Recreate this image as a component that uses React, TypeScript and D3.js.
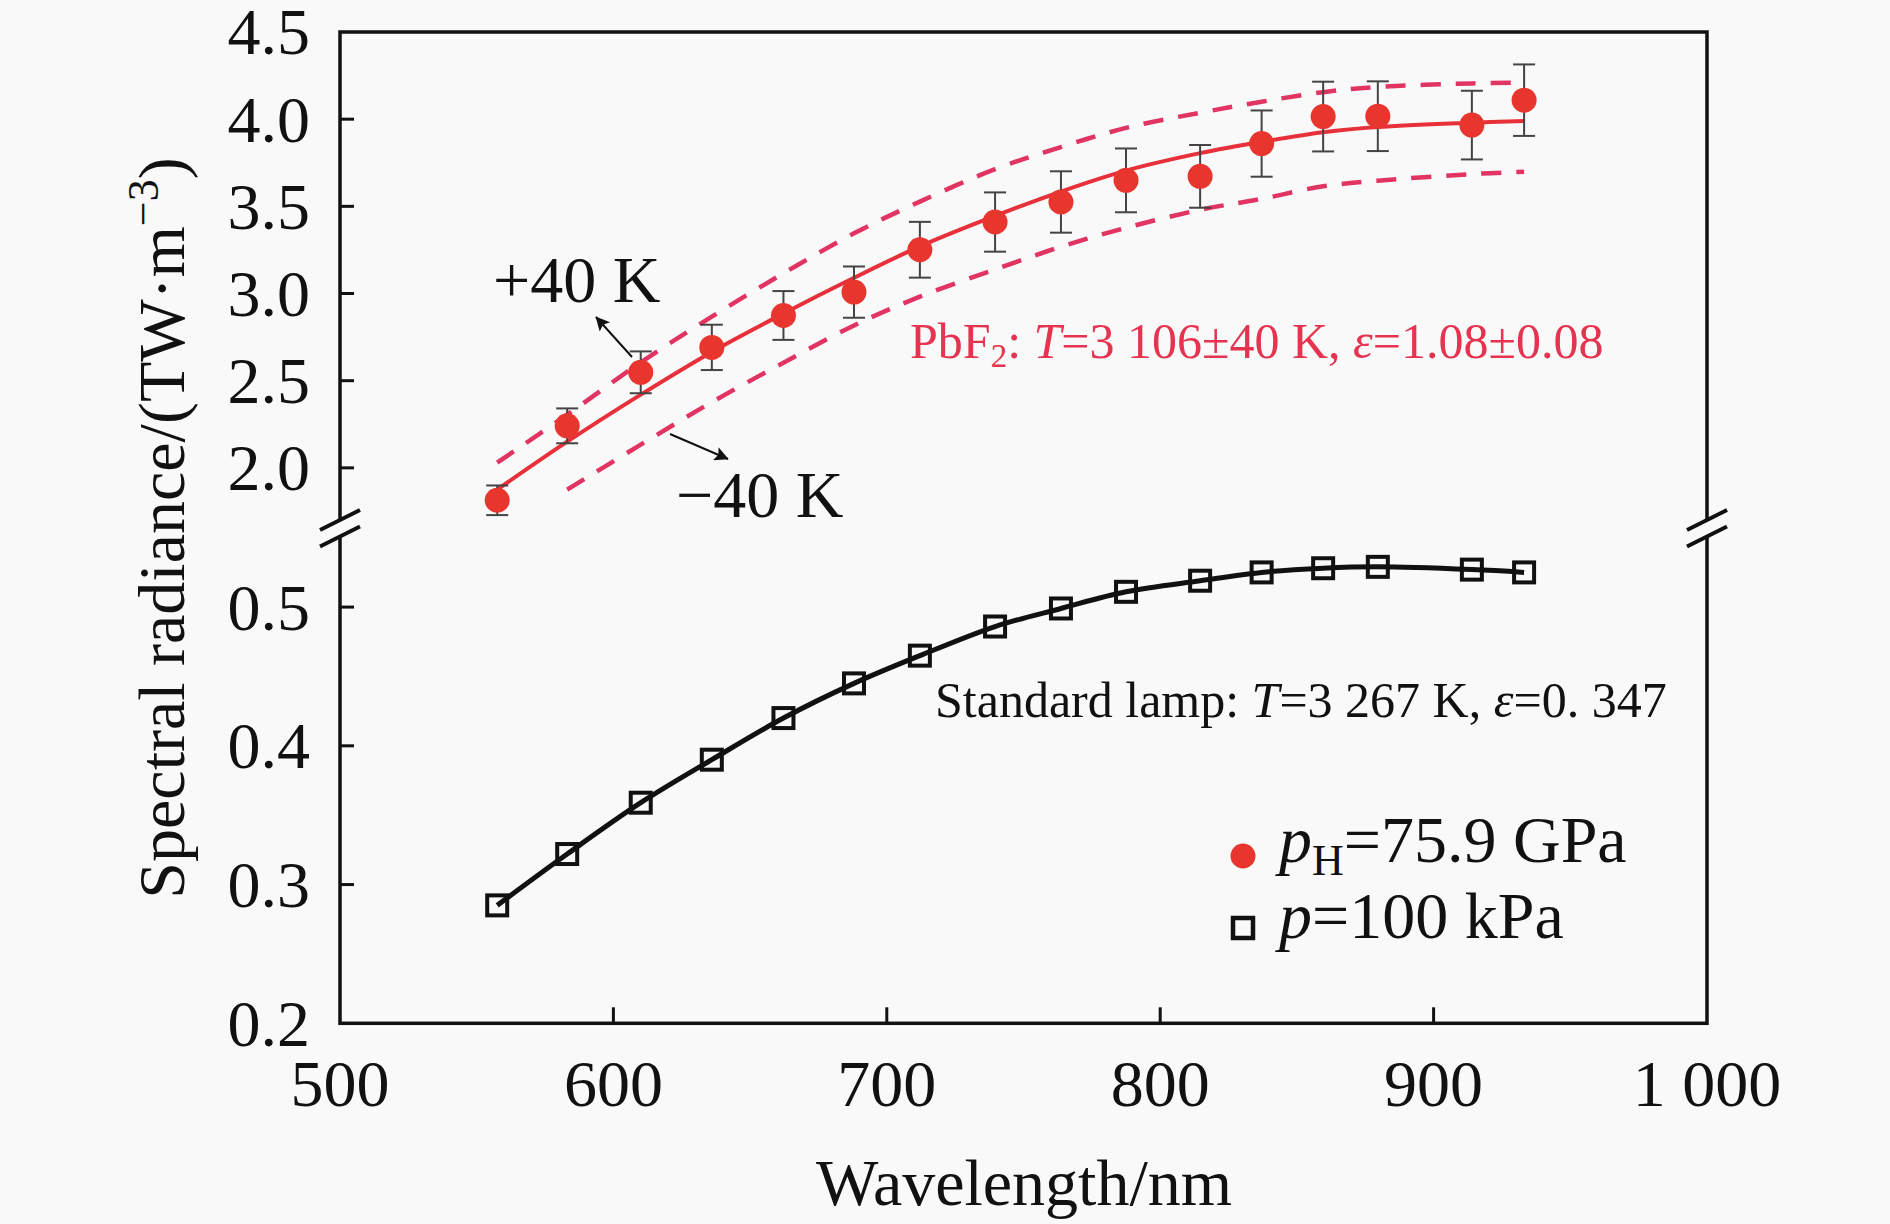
import React from "react";
import * as d3 from "d3";

// ---------- data ----------
const wavelengths = [557.5, 583.1, 610.0, 636.0, 662.2, 688.0, 712.1, 739.6, 763.7, 787.5, 814.6, 837.1, 859.6, 879.6, 914.0, 933.1];
const pbf2Radiance = [1.814, 2.241, 2.548, 2.691, 2.874, 3.008, 3.251, 3.410, 3.525, 3.649, 3.672, 3.860, 4.015, 4.017, 3.966, 4.109];
const pbf2Error = [0.085, 0.10, 0.12, 0.13, 0.14, 0.147, 0.16, 0.17, 0.176, 0.183, 0.18, 0.19, 0.20, 0.20, 0.197, 0.205];
const pbf2Fit = [1.875, 2.15, 2.42, 2.665, 2.885, 3.09, 3.27, 3.445, 3.585, 3.705, 3.805, 3.87, 3.925, 3.955, 3.98, 3.99];
const fitPlus40 = [2.03, 2.305, 2.605, 2.867, 3.116, 3.345, 3.527, 3.713, 3.84, 3.95, 4.037, 4.10, 4.155, 4.185, 4.205, 4.21];
const fitMinus40: (number | null)[] = [null, 1.875, 2.133, 2.377, 2.603, 2.817, 2.982, 3.138, 3.268, 3.377, 3.48, 3.543, 3.615, 3.647, 3.685, 3.698];
const lampRadiance = [0.285, 0.322, 0.359, 0.390, 0.420, 0.445, 0.465, 0.486, 0.499, 0.511, 0.519, 0.525, 0.528, 0.529, 0.527, 0.525];

const xTicks = [500, 600, 700, 800, 900, 1000];
const xTickLabels = ["500", "600", "700", "800", "900", "1 000"];
const yUpperTicks = [2.0, 2.5, 3.0, 3.5, 4.0, 4.5];
const yUpperLabels = ["2.0", "2.5", "3.0", "3.5", "4.0", "4.5"];
const yLowerTicks = [0.2, 0.3, 0.4, 0.5];
const yLowerLabels = ["0.2", "0.3", "0.4", "0.5"];

// ---------- layout ----------
const W = 1890;
const H = 1224;
const L = 340;
const R = 1707;
const T = 32;
const B = 1023.3;
const BRK = 528;

const FONT = "'Liberation Serif', 'Times New Roman', Times, serif";
const BG = "#f9f9f9";
const RED_PT = "#e8362f";
const RED_LINE = "#e8303a";
const RED_DASH = "#e13462";
const RED_TEXT = "#e6334f";

export default function App() {
  const x = d3.scaleLinear().domain([500, 1000]).range([L, R]);
  const yU = d3.scaleLinear().domain([1.655, 4.5]).range([BRK, T]);
  const yL = d3.scaleLinear().domain([0.2, 0.557]).range([B, BRK]);

  const lineU = d3
    .line<[number, number]>()
    .x((d) => x(d[0]))
    .y((d) => yU(d[1]))
    .curve(d3.curveCatmullRom.alpha(0.5));
  const lineL = d3
    .line<[number, number]>()
    .x((d) => x(d[0]))
    .y((d) => yL(d[1]))
    .curve(d3.curveCatmullRom.alpha(0.5));

  const fitPts = wavelengths.map((w, i) => [w, pbf2Fit[i]] as [number, number]);
  const plusPts = wavelengths.map((w, i) => [w, fitPlus40[i]] as [number, number]);
  const minusPts = wavelengths
    .map((w, i) => [w, fitMinus40[i]] as [number, number | null])
    .filter((d) => d[1] !== null) as [number, number][];
  const lampPts = wavelengths.map((w, i) => [w, lampRadiance[i]] as [number, number]);

  const tickLen = 14;
  const sq = 20;

  const breakShape = (ax: number) => {
    const dx = 20;
    const slope = 10;
    const y1 = BRK - 8;
    const y2 = BRK + 8.5;
    return (
      <g>
        <polygon
          points={`${ax - dx},${y1 + slope} ${ax + dx},${y1 - slope} ${ax + dx},${y2 - slope} ${ax - dx},${y2 + slope}`}
          fill={BG}
        />
        <line x1={ax - dx} y1={y1 + slope} x2={ax + dx} y2={y1 - slope} stroke="#111" strokeWidth={4} />
        <line x1={ax - dx} y1={y2 + slope} x2={ax + dx} y2={y2 - slope} stroke="#111" strokeWidth={4} />
      </g>
    );
  };

  return (
    <svg
      width={W}
      height={H}
      viewBox={`0 0 ${W} ${H}`}
      style={{ position: "absolute", left: 0, top: 0, background: BG }}
      fontFamily={FONT}
    >
      <defs>
        <marker id="arrowBig" viewBox="0 0 10 10" refX="9.5" refY="5" markerWidth="18" markerHeight="14" orient="auto" markerUnits="userSpaceOnUse">
          <path d="M0,0 L10,5 L0,10 L2,5 z" fill="#111" />
        </marker>
      </defs>
      <rect x={0} y={0} width={W} height={H} fill={BG} />

      {/* frame */}
      <rect x={L} y={T} width={R - L} height={B - T} fill="none" stroke="#111" strokeWidth={3.5} />

      {/* left ticks */}
      {yUpperTicks.slice(0, -1).map((t) => (
        <line key={"tu" + t} x1={L} x2={L + tickLen} y1={yU(t)} y2={yU(t)} stroke="#111" strokeWidth={3} />
      ))}
      {yLowerTicks.slice(1).map((t) => (
        <line key={"tl" + t} x1={L} x2={L + tickLen} y1={yL(t)} y2={yL(t)} stroke="#111" strokeWidth={3} />
      ))}
      {/* bottom ticks */}
      {xTicks.slice(1, -1).map((t) => (
        <line key={"tx" + t} x1={x(t)} x2={x(t)} y1={B} y2={B - tickLen - 2} stroke="#111" strokeWidth={3} />
      ))}

      {/* y tick labels */}
      {yUpperTicks.map((t, i) => (
        <text key={"lu" + t} x={310} y={yU(t)} dy="0.34em" textAnchor="end" fontSize={66} fill="#111">
          {yUpperLabels[i]}
        </text>
      ))}
      {yLowerTicks.map((t, i) => (
        <text key={"ll" + t} x={310} y={yL(t)} dy="0.34em" textAnchor="end" fontSize={66} fill="#111">
          {yLowerLabels[i]}
        </text>
      ))}
      {/* x tick labels */}
      {xTicks.map((t, i) => (
        <text key={"lx" + t} x={x(t)} y={1106} textAnchor="middle" fontSize={66} fill="#111">
          {xTickLabels[i]}
        </text>
      ))}

      {/* axis titles */}
      <text x={1024} y={1205} textAnchor="middle" fontSize={66} fill="#111">
        Wavelength/nm
      </text>
      <text transform={`translate(184,${BRK}) rotate(-90)`} textAnchor="middle" fontSize={66} fill="#111">
        Spectral radiance/(TW·m
        <tspan fontSize={44} dy={-26}>−3</tspan>
        <tspan dy={26}>)</tspan>
      </text>

      {/* axis breaks */}
      {breakShape(L)}
      {breakShape(R)}

      {/* PbF2 fit band */}
      <path d={lineU(plusPts) || ""} fill="none" stroke={RED_DASH} strokeWidth={4.5} strokeDasharray="20 15" />
      <path d={lineU(minusPts) || ""} fill="none" stroke={RED_DASH} strokeWidth={4.5} strokeDasharray="20 15" />
      <path d={lineU(fitPts) || ""} fill="none" stroke={RED_LINE} strokeWidth={4} />

      {/* error bars */}
      {wavelengths.map((w, i) => {
        const cx = x(w);
        const top = yU(pbf2Radiance[i] + pbf2Error[i]);
        const bot = yU(pbf2Radiance[i] - pbf2Error[i]);
        return (
          <g key={"eb" + i} stroke="#444" strokeWidth={2}>
            <line x1={cx} x2={cx} y1={top} y2={bot} />
            <line x1={cx - 11} x2={cx + 11} y1={top} y2={top} />
            <line x1={cx - 11} x2={cx + 11} y1={bot} y2={bot} />
          </g>
        );
      })}
      {/* PbF2 points */}
      {wavelengths.map((w, i) => (
        <circle key={"pt" + i} cx={x(w)} cy={yU(pbf2Radiance[i])} r={12.5} fill={RED_PT} />
      ))}

      {/* standard lamp */}
      <path d={lineL(lampPts) || ""} fill="none" stroke="#111" strokeWidth={5} />
      {wavelengths.map((w, i) => (
        <rect
          key={"sq" + i}
          x={x(w) - sq / 2}
          y={yL(lampRadiance[i]) - sq / 2}
          width={sq}
          height={sq}
          fill="none"
          stroke="#111"
          strokeWidth={4}
        />
      ))}

      {/* annotations */}
      <text x={493} y={302} fontSize={66} fill="#111">+40 K</text>
      <line x1={632} y1={357} x2={596} y2={317} stroke="#111" strokeWidth={2} markerEnd="url(#arrowBig)" />
      <text x={676} y={517} fontSize={66} fill="#111">−40 K</text>
      <line x1={670} y1={434} x2={728} y2={459} stroke="#111" strokeWidth={2} markerEnd="url(#arrowBig)" />

      <text x={910} y={358} fontSize={50} fill={RED_TEXT}>
        PbF
        <tspan fontSize={33} dy={9}>2</tspan>
        <tspan dy={-9}>: </tspan>
        <tspan fontStyle="italic">T</tspan>
        <tspan>=3 106±40 K, </tspan>
        <tspan fontStyle="italic">ε</tspan>
        <tspan>=1.08±0.08</tspan>
      </text>

      <text x={935} y={717} fontSize={50} fill="#111">
        Standard lamp: <tspan fontStyle="italic">T</tspan>=3 267 K, <tspan fontStyle="italic">ε</tspan>=0. 347
      </text>

      {/* legend */}
      <circle cx={1243} cy={856} r={12.5} fill={RED_PT} />
      <text x={1279} y={862} fontSize={66} fill="#111">
        <tspan fontStyle="italic">p</tspan>
        <tspan fontSize={44} dy={13}>H</tspan>
        <tspan dy={-13}>=75.9 GPa</tspan>
      </text>
      <rect x={1243 - 10} y={928 - 10} width={20} height={20} fill="none" stroke="#111" strokeWidth={4.5} />
      <text x={1279} y={938} fontSize={66} fill="#111">
        <tspan fontStyle="italic">p</tspan>=100 kPa
      </text>
    </svg>
  );
}
